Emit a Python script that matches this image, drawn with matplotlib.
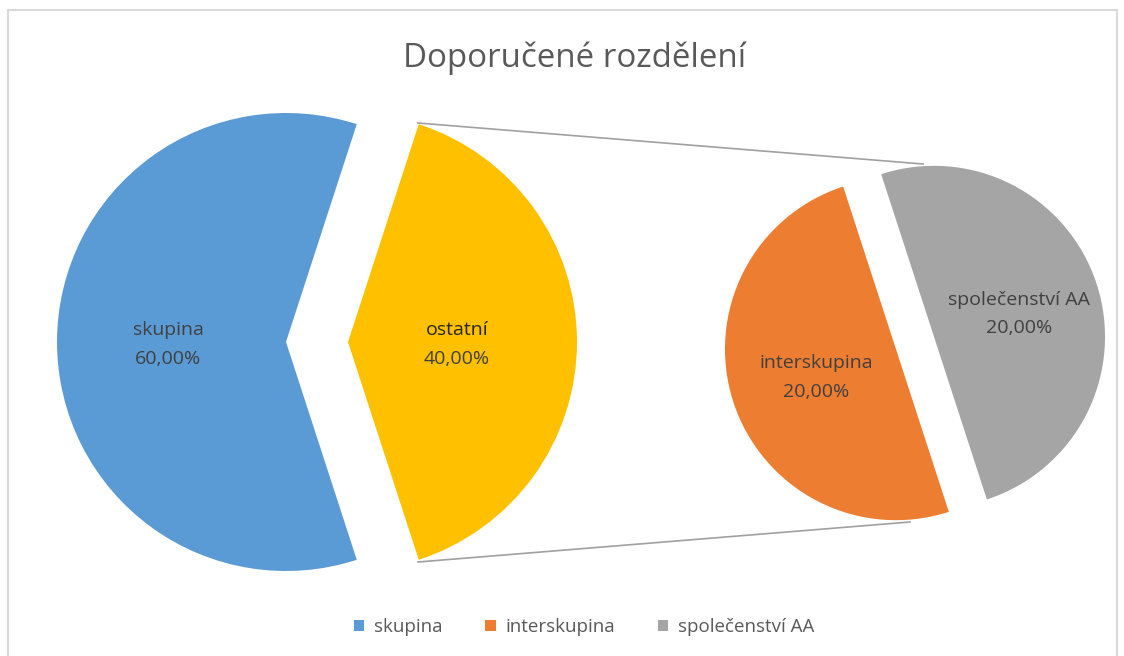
import matplotlib
matplotlib.use("Agg")
import matplotlib.pyplot as plt
from matplotlib.patches import Patch, Rectangle

plt.rcParams['font.family'] = ['Open Sans', 'DejaVu Sans']

title = "Doporučené rozdělení"
main_labels = ["skupina", "ostatní"]
main_values = [60, 40]
main_colors = ["#5B9BD5", "#FFC000"]
sec_labels = ["interskupina", "společenství AA"]
sec_values = [20, 20]
sec_colors = ["#ED7D31", "#A5A5A5"]
legend_labels = ["skupina", "interskupina", "společenství AA"]
legend_colors = ["#5B9BD5", "#ED7D31", "#A5A5A5"]

W, H = 1124, 656
fig = plt.figure(figsize=(W / 100, H / 100), dpi=100)
ax = fig.add_axes([0, 0, 1, 1])

# chart border
ax.add_patch(Rectangle((8, -10), 1109, H - 10 + 10, fill=False,
                       edgecolor="#D9D9D9", linewidth=1.5))

def fmt(v, total):
    return f"{v / total * 100:.2f}%".replace(".", ",")

total = sum(main_values)
# main pie
mc = (286, H - 342)
mr = 229
ax.pie(main_values, colors=main_colors, startangle=72, counterclock=True,
       center=mc, radius=mr, explode=[0, 62], frame=True,
       wedgeprops=dict(linewidth=0))
# secondary pie
sc = (915, H - 343)
sr = 171
ax.pie(sec_values, colors=sec_colors, startangle=108, counterclock=True,
       center=sc, radius=sr, explode=[20, 20], frame=True,
       wedgeprops=dict(linewidth=0))
ax.set_xlim(0, W)
ax.set_ylim(0, H)
ax.set_aspect('equal')
ax.axis('off')

# connector lines
ax.plot([418, sc[0] + 8], [H - 123, H - 164], color="#A0A0A0", lw=1.2)
ax.plot([418, sc[0] - 5], [H - 562, H - 522], color="#A0A0A0", lw=1.2)

lab_col = "#404040"
fs = 14
# main labels
ax.text(168, H - 330, main_labels[0], ha='center', va='center', fontsize=fs, color=lab_col)
ax.text(168, H - 359, fmt(main_values[0], total), ha='center', va='center', fontsize=fs, color=lab_col)
ax.text(457, H - 330, main_labels[1], ha='center', va='center', fontsize=fs, color="#262626")
ax.text(457, H - 359, fmt(main_values[1], total), ha='center', va='center', fontsize=fs, color=lab_col)
# secondary labels
ax.text(816, H - 363, sec_labels[0], ha='center', va='center', fontsize=fs, color=lab_col)
ax.text(816, H - 392, fmt(sec_values[0], total), ha='center', va='center', fontsize=fs, color=lab_col)
ax.text(1019, H - 300, sec_labels[1], ha='center', va='center', fontsize=fs, color=lab_col)
ax.text(1019, H - 328, fmt(sec_values[1], total), ha='center', va='center', fontsize=fs, color=lab_col)

ax.text(575, H - 58, title, ha='center', va='center', fontsize=23.8, color="#595959")

handles = [Patch(facecolor=c, edgecolor='none') for c in legend_colors]
leg = fig.legend(handles, legend_labels, loc='center', bbox_to_anchor=(584 / W, 1 - 627 / H),
                 ncol=3, frameon=False, fontsize=13.5, handlelength=0.55, handleheight=0.55,
                 handletextpad=0.5, columnspacing=2.3)
for t in leg.get_texts():
    t.set_color("#595959")

fig.savefig("out.png", dpi=100)
